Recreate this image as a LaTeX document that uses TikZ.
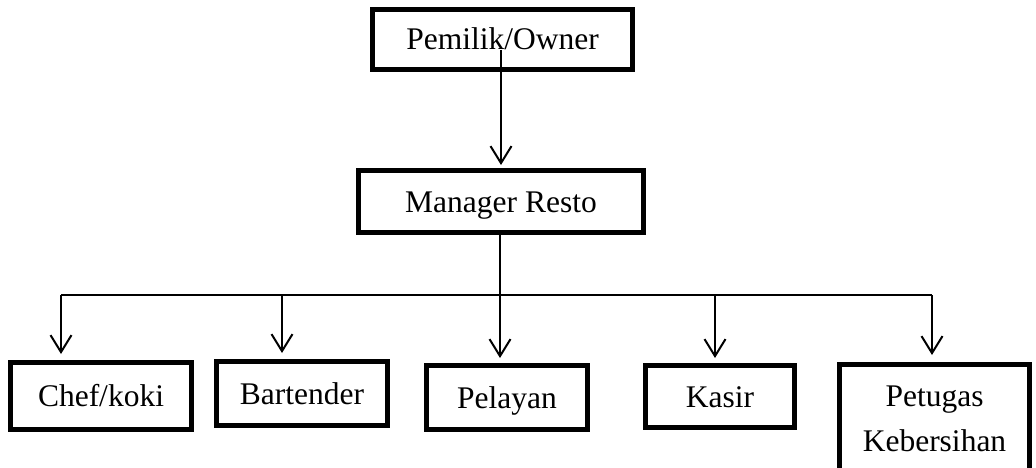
\documentclass[tikz,border=0pt]{standalone}
\usepackage{fontspec}
\setmainfont{Liberation Serif}
\usetikzlibrary{arrows.meta}
\begin{document}
\begin{tikzpicture}[x=1pt,y=-1pt,
  boxbase/.style={draw,line width=5pt,inner sep=0pt,font=\fontsize{31.5}{45}\selectfont},
  box/.style={boxbase,text height=21pt,text depth=0pt},
  conn/.style={line width=2pt},
  arr/.style={conn,-{Straight Barb[length=17pt,width=21pt,line width=2pt]}}]
\useasboundingbox (0,0) rectangle (1036,468);
\node[box,minimum width=260pt,minimum height=60pt] (own) at (502.5,39.5) {Pemilik/Owner};
\node[box,minimum width=285pt,minimum height=62pt] (mgr) at (501,201.5) {Manager Resto};
\node[box,minimum width=181pt,minimum height=67pt] (chef) at (101,396) {Chef/koki};
\node[box,minimum width=171pt,minimum height=64pt] (bar) at (302,393.5) {Bartender};
\node[box,minimum width=161pt,minimum height=64pt] (pel) at (507,397.5) {Pelayan};
\node[box,minimum width=149pt,minimum height=62pt] (kas) at (720,396.5) {Kasir};
\node[boxbase,align=center,minimum width=190pt,minimum height=108pt] (pet) at (934.5,418.5) {Petugas\\Kebersihan};
\coordinate (ostart) at (501,50);
\coordinate (b1) at (61,295);
\coordinate (b2) at (282,295);
\coordinate (b3) at (500,295);
\coordinate (b4) at (715,295);
\coordinate (b5) at (932,295);
\draw[arr] (ostart) -- ([yshift=3pt]ostart |- mgr.north);
\draw[conn] (b1) -- (b5);
\draw[arr] (b3 |- mgr.south) -- ([yshift=5pt]b3 |- pel.north);
\draw[arr] (b1) -- ([yshift=6pt]b1 |- chef.north);
\draw[arr] (b2) -- ([yshift=6pt]b2 |- bar.north);
\draw[arr] (b4) -- ([yshift=5pt]b4 |- kas.north);
\draw[arr] (b5) -- ([yshift=7pt]b5 |- pet.north);
\end{tikzpicture}
\end{document}
